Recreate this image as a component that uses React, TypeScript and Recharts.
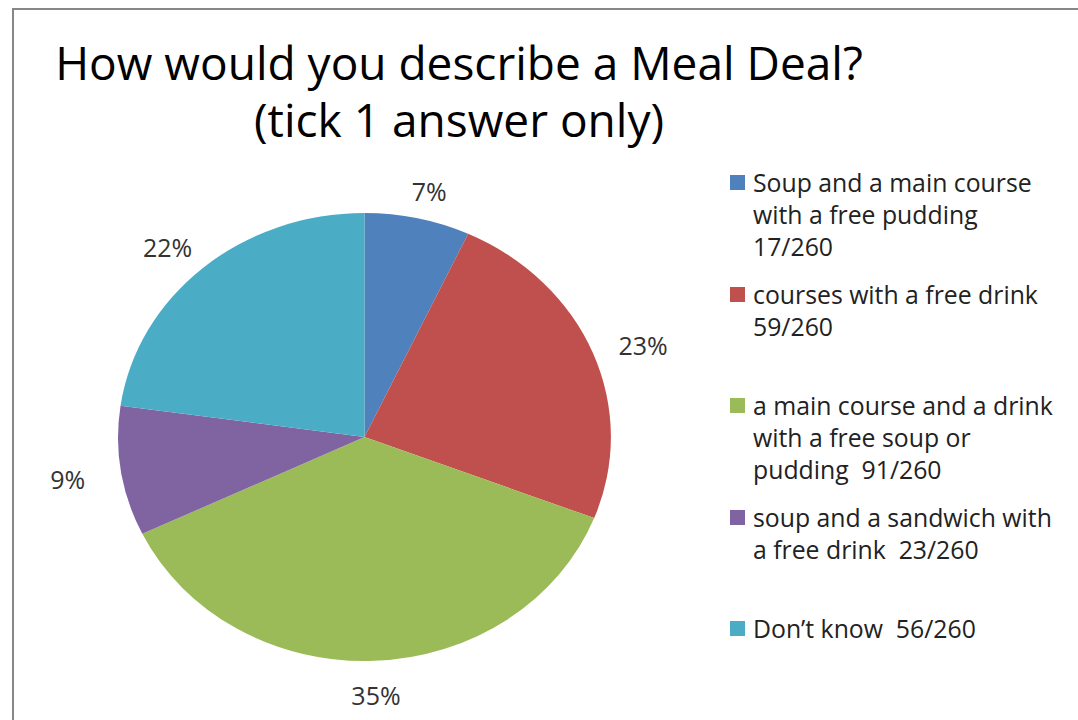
import React from "react";
import { PieChart, Pie, Cell, Legend } from "recharts";

// survey answers (counts out of 260 respondents)
const categories = [
  "Soup and a main course\nwith a free pudding\n17/260",
  "courses with a free drink\n59/260",
  "a main course and a drink\nwith a free soup or\npudding  91/260",
  "soup and a sandwich with\na free drink  23/260",
  "Don\u2019t know  56/260",
];
const counts = [17, 59, 91, 23, 56];
const percentLabels = ["7%", "23%", "35%", "9%", "22%"];
const COLORS = ["#4F81BD", "#C0504D", "#9BBB59", "#8064A2", "#4BACC6"];

const data = categories.map((name, i) => ({ name, value: counts[i] }));

const W = 1078;
const H = 720;
const M = 5; // recharts default chart margin
const CX = 364.5;
const CY = 437;
const R = 224;
const STRETCH = 1.1; // Excel drew the pie as an ellipse
const FONT = "'Open Sans', sans-serif";

const RAD = Math.PI / 180;

const renderLabel = (props: any) => {
  const { cx, cy, midAngle, outerRadius, index } = props;
  const a = -midAngle * RAD;
  const x = cx + (outerRadius * STRETCH + 54) * Math.cos(a);
  const y = cy + (outerRadius + 31) * Math.sin(a) + 3;
  return (
    <text
      x={x}
      y={y}
      fill="#333"
      fontSize={25}
      fontFamily={FONT}
      textAnchor="middle"
      dominantBaseline="central"
    >
      {percentLabels[index]}
    </text>
  );
};

const renderLegend = () => (
  <div style={{ fontFamily: FONT }}>
    {categories.map((name, i) => (
      <div
        key={name}
        style={{ height: 111.5, display: "flex", alignItems: "flex-start" }}
      >
        <div
          style={{
            width: 15,
            height: 15,
            background: COLORS[i],
            marginTop: 9,
            marginRight: 8,
            flex: "none",
          }}
        />
        <div
          style={{
            whiteSpace: "pre",
            fontSize: 24.8,
            lineHeight: "32px",
            color: "#222",
          }}
        >
          {name}
        </div>
      </div>
    ))}
  </div>
);

export default function App() {
  return (
    <div
      style={{
        position: "fixed",
        left: 0,
        top: 0,
        width: W,
        height: H,
        overflow: "hidden",
        background: "#fff",
      }}
    >
      <div
        style={{
          position: "absolute",
          left: 12,
          top: 8,
          width: 1120,
          height: 780,
          border: "2px solid #878787",
        }}
      />
      <div
        style={{
          position: "absolute",
          left: 0,
          top: 34,
          width: 918,
          textAlign: "center",
          fontFamily: FONT,
          fontSize: 46,
          lineHeight: "57px",
          color: "#000",
        }}
      >
        How would you describe a Meal Deal?
        <br />
        (tick 1 answer only)
      </div>

      {/* pie body, stretched horizontally */}
      <div
        style={{
          position: "absolute",
          left: 0,
          top: 0,
          transform: `scaleX(${STRETCH})`,
          transformOrigin: `${CX}px ${CY}px`,
        }}
      >
        <PieChart width={W} height={H}>
          <Pie
            data={data}
            dataKey="value"
            nameKey="name"
            cx={CX - M}
            cy={CY - M}
            outerRadius={R}
            startAngle={90}
            endAngle={-270}
            stroke="none"
            isAnimationActive={false}
          >
            {data.map((d, i) => (
              <Cell key={`cell-${i}`} fill={COLORS[i]} />
            ))}
          </Pie>
        </PieChart>
      </div>

      {/* labels and legend, unstretched */}
      <div style={{ position: "absolute", left: 0, top: 0 }}>
        <PieChart width={W} height={H}>
          <Pie
            data={data}
            dataKey="value"
            nameKey="name"
            cx={CX - M}
            cy={CY - M}
            outerRadius={R}
            startAngle={90}
            endAngle={-270}
            stroke="none"
            fill="transparent"
            label={renderLabel}
            labelLine={false}
            isAnimationActive={false}
          >
            {data.map((d, i) => (
              <Cell key={`lab-${i}`} fill="transparent" />
            ))}
          </Pie>
          <Legend
            content={renderLegend}
            wrapperStyle={{ left: 730, top: 166, width: 345 }}
          />
        </PieChart>
      </div>
    </div>
  );
}
